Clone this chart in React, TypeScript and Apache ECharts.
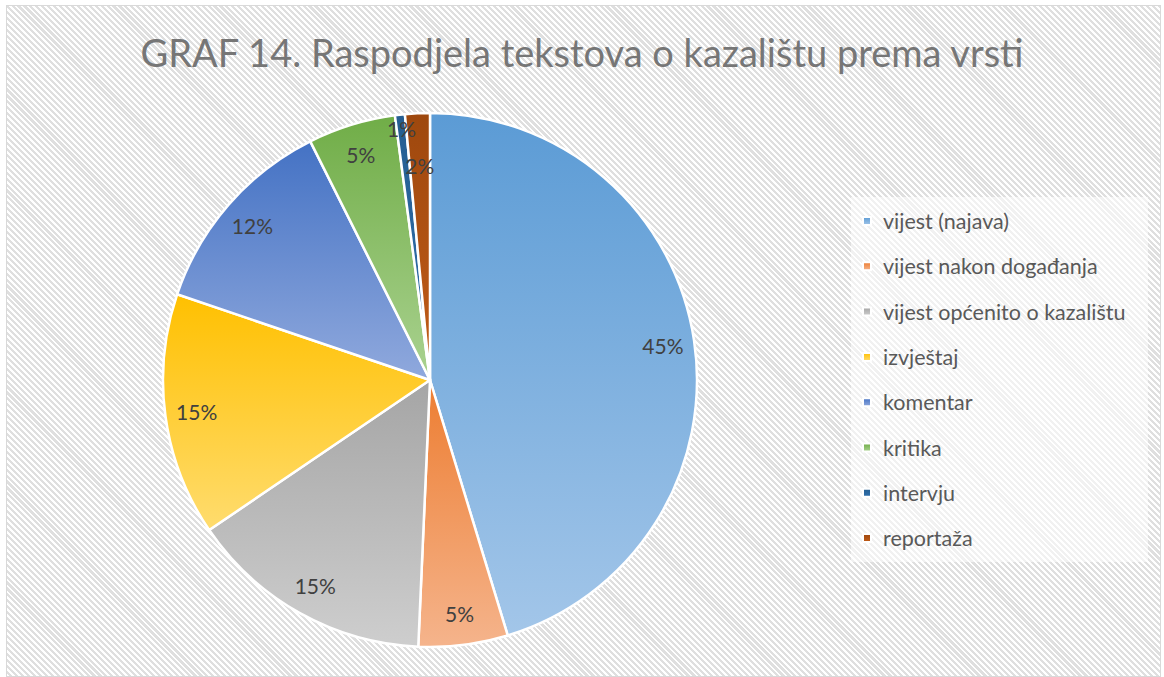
import React, { useEffect, useRef } from "react";
import * as echarts from "echarts";

const titleText = "GRAF 14. Raspodjela tekstova o kazalištu prema vrsti";
const categories = [
  "vijest (najava)",
  "vijest nakon događanja",
  "vijest općenito o kazalištu",
  "izvještaj",
  "komentar",
  "kritika",
  "intervju",
  "reportaža",
];
const shares = [45.3, 5.4, 14.8, 14.7, 12.4, 5.3, 0.6, 1.5];
const topColors = ["#5B9BD5", "#ED7D31", "#A5A5A5", "#FFC000", "#4472C4", "#70AD47", "#255E91", "#9E480E"];
const bottomColors = ["#A3C6E9", "#F5B48C", "#CECECE", "#FFDC6E", "#90A9DD", "#AAD290", "#2E6FAD", "#C25C18"];

const FONT = "Lato, 'Open Sans', sans-serif";

export default function App() {
  const ref = useRef<HTMLDivElement>(null);

  useEffect(() => {
    document.body.style.margin = "0";
    if (!ref.current) return;
    const chart = echarts.init(ref.current, null, { renderer: "svg" });

    const center = [430, 380];
    const R = 267;

    const mainData = categories.map((name, i) => ({
      name,
      value: shares[i],
      itemStyle: {
        color: new echarts.graphic.LinearGradient(0, 0, 0, 1, [
          { offset: 0, color: topColors[i] },
          { offset: 1, color: bottomColors[i] },
        ]),
      },
    }));

    const overlay = (inner: number, show: number[]) => ({
      type: "pie",
      center,
      radius: [inner, R],
      startAngle: 90,
      clockwise: true,
      silent: true,
      avoidLabelOverlap: false,
      itemStyle: { color: "rgba(0,0,0,0)", borderWidth: 0 },
      labelLine: { show: false },
      emphasis: { disabled: true },
      data: categories.map((name, i) => ({
        name,
        value: shares[i],
        label: { show: show.includes(i) },
      })),
      label: {
        position: "inside",
        color: "#404040",
        fontSize: 21,
        fontFamily: FONT,
        formatter: (p: any) => Math.round(p.value) + "%",
      },
      z: 3,
    });

    chart.setOption({
      animation: false,
      title: {
        text: titleText,
        left: "center",
        top: 28,
        textStyle: { color: "#767676", fontSize: 38, fontWeight: "normal", fontFamily: FONT },
      },
      graphic: [
        {
          type: "rect",
          shape: { x: 851, y: 197, width: 297, height: 365 },
          style: { fill: "rgba(255,255,255,0.55)" },
          z: 0,
          silent: true,
        },
      ],
      legend: {
        orient: "vertical",
        left: 862,
        top: 210,
        padding: 0,
        itemWidth: 8,
        itemHeight: 8,
        itemGap: 23.3,
        icon: "rect",
        selectedMode: false,
        data: categories,
        textStyle: {
          color: "#595959",
          fontSize: 21.5,
          fontFamily: FONT,
          lineHeight: 22,
          padding: [0, 0, 0, 7],
        },
      },
      series: [
        {
          type: "pie",
          center,
          radius: [0, R],
          startAngle: 90,
          clockwise: true,
          avoidLabelOverlap: false,
          itemStyle: { borderColor: "#ffffff", borderWidth: 2.5 },
          label: { show: false },
          labelLine: { show: false },
          emphasis: { disabled: true },
          data: mainData,
        },
        overlay(198, [0, 1, 2, 3, 4, 5]),
        overlay(157, [7]),
        overlay(233, [6]),
      ],
    });

    return () => chart.dispose();
  }, []);

  return (
    <div style={{ position: "relative", width: 1164, height: 677, background: "#ffffff" }}>
      <div
        style={{
          position: "absolute",
          left: 6,
          top: 5,
          width: 1155,
          height: 672,
          boxSizing: "border-box",
          border: "1px solid #d9d9d9",
          background:
            "repeating-linear-gradient(45deg, #ffffff 0px, #ffffff 2px, #dfdfdf 2px, #dfdfdf 4.2px)",
        }}
      />
      <div ref={ref} style={{ position: "absolute", left: 0, top: 0, width: 1164, height: 677 }} />
    </div>
  );
}
